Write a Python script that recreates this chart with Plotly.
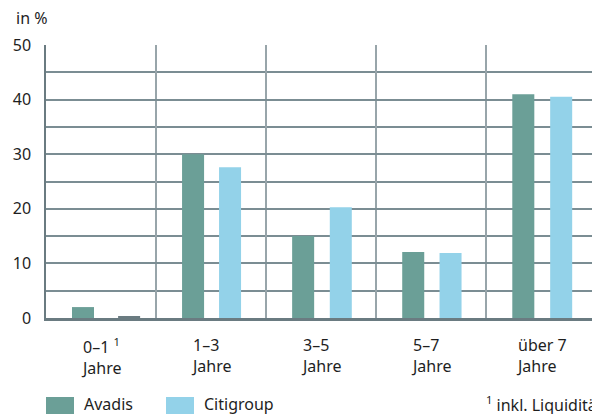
import plotly.graph_objects as go

# Laufzeitklassen und Anteile in %
categories = ["0–1", "1–3", "3–5", "5–7", "über 7"]
category_labels = ["0–1 <sup>1</sup><br>Jahre", "1–3<br>Jahre", "3–5<br>Jahre",
                   "5–7<br>Jahre", "über 7<br>Jahre"]
avadis = [2.0, 30.0, 15.0, 12.1, 41.0]
citigroup = [0.3, 27.6, 20.3, 11.9, 40.5]
series_names = ["Avadis", "Citigroup"]

FONT = "Noto Sans"
TEXT = "#1e1e1e"
C_AVADIS = "#6b9f97"
C_CITI = "#93d2e9"
GRID = "#7b8d93"
AXIS = "#6a7b81"

fig = go.Figure()
fig.add_bar(
    x=categories, y=avadis, name=series_names[0],
    marker=dict(color=C_AVADIS, line=dict(width=0)),
    width=0.2, offset=-0.264,
)
fig.add_bar(
    x=categories, y=citigroup, name=series_names[1],
    marker=dict(color=[AXIS, C_CITI, C_CITI, C_CITI, C_CITI], line=dict(width=0)),
    width=0.2, offset=[0.155, 0.072, 0.078, 0.075, 0.08],
)

# Kategorien-Beschriftung unter der Achse (zweizeilig, linksbündig)
annotations = []
for cat, lab in zip(categories, category_labels):
    annotations.append(dict(
        x=cat, xref="x", y=0, yref="paper", yanchor="top", yshift=-14,
        text=lab, showarrow=False, align="left", xanchor="center",
        font=dict(family=FONT, size=16, color=TEXT),
    ))

# Einheit oben links
annotations.append(dict(
    x=-46 / 546, xref="paper", xshift=14, xanchor="left",
    y=(318 - 18) / 273, yref="paper", yanchor="middle",
    text="in %", showarrow=False, font=dict(family=FONT, size=16, color=TEXT),
))

# Fussnote
annotations.append(dict(
    x=(484 - 46) / 546, xref="paper", xanchor="left",
    y=(318 - 404) / 273, yref="paper", yanchor="middle",
    text="<sup>1</sup> inkl. Liquidität", showarrow=False,
    font=dict(family=FONT, size=16, color=TEXT),
))

# Legende als Farbfelder mit Text
shapes = []
legend_items = [(series_names[0], C_AVADIS, 46), (series_names[1], C_CITI, 166)]
for name, color, px in legend_items:
    shapes.append(dict(
        type="rect", xref="paper", yref="paper",
        x0=(px - 46) / 546, x1=(px + 28 - 46) / 546,
        y0=(318 - 397) / 273, y1=(318 - 416) / 273,
        fillcolor=color, line=dict(width=0),
    ))
    annotations.append(dict(
        x=(px + 36 - 46) / 546, xref="paper", xanchor="left",
        y=(318 - 404) / 273, yref="paper", yanchor="middle",
        text=name, showarrow=False,
        font=dict(family=FONT, size=16, color=TEXT),
    ))

fig.update_layout(
    width=592, height=414,
    margin=dict(l=46, r=0, t=45, b=96),
    paper_bgcolor="white", plot_bgcolor="white",
    barmode="overlay", showlegend=False,
    font=dict(family=FONT, size=16, color=TEXT),
    annotations=annotations, shapes=shapes,
    xaxis=dict(
        type="category", tickson="boundaries", range=[-0.5, 4.46],
        showticklabels=False, ticks="",
        showgrid=True, gridcolor="#98a5aa", gridwidth=1.5,
        showline=True, linecolor=AXIS, linewidth=2.5,
        zeroline=False, fixedrange=True,
    ),
    yaxis=dict(
        range=[0, 50], tickvals=[0, 10, 20, 30, 40, 50],
        ticks="", ticklabelstandoff=10,
        tickfont=dict(family=FONT, size=16, color=TEXT),
        showgrid=True, gridcolor=GRID, gridwidth=1.5,
        minor=dict(dtick=5, showgrid=True, gridcolor=GRID, gridwidth=1.5),
        showline=True, linecolor=AXIS, linewidth=1.5,
        zeroline=False, fixedrange=True,
    ),
)

fig.write_html("out.html")
